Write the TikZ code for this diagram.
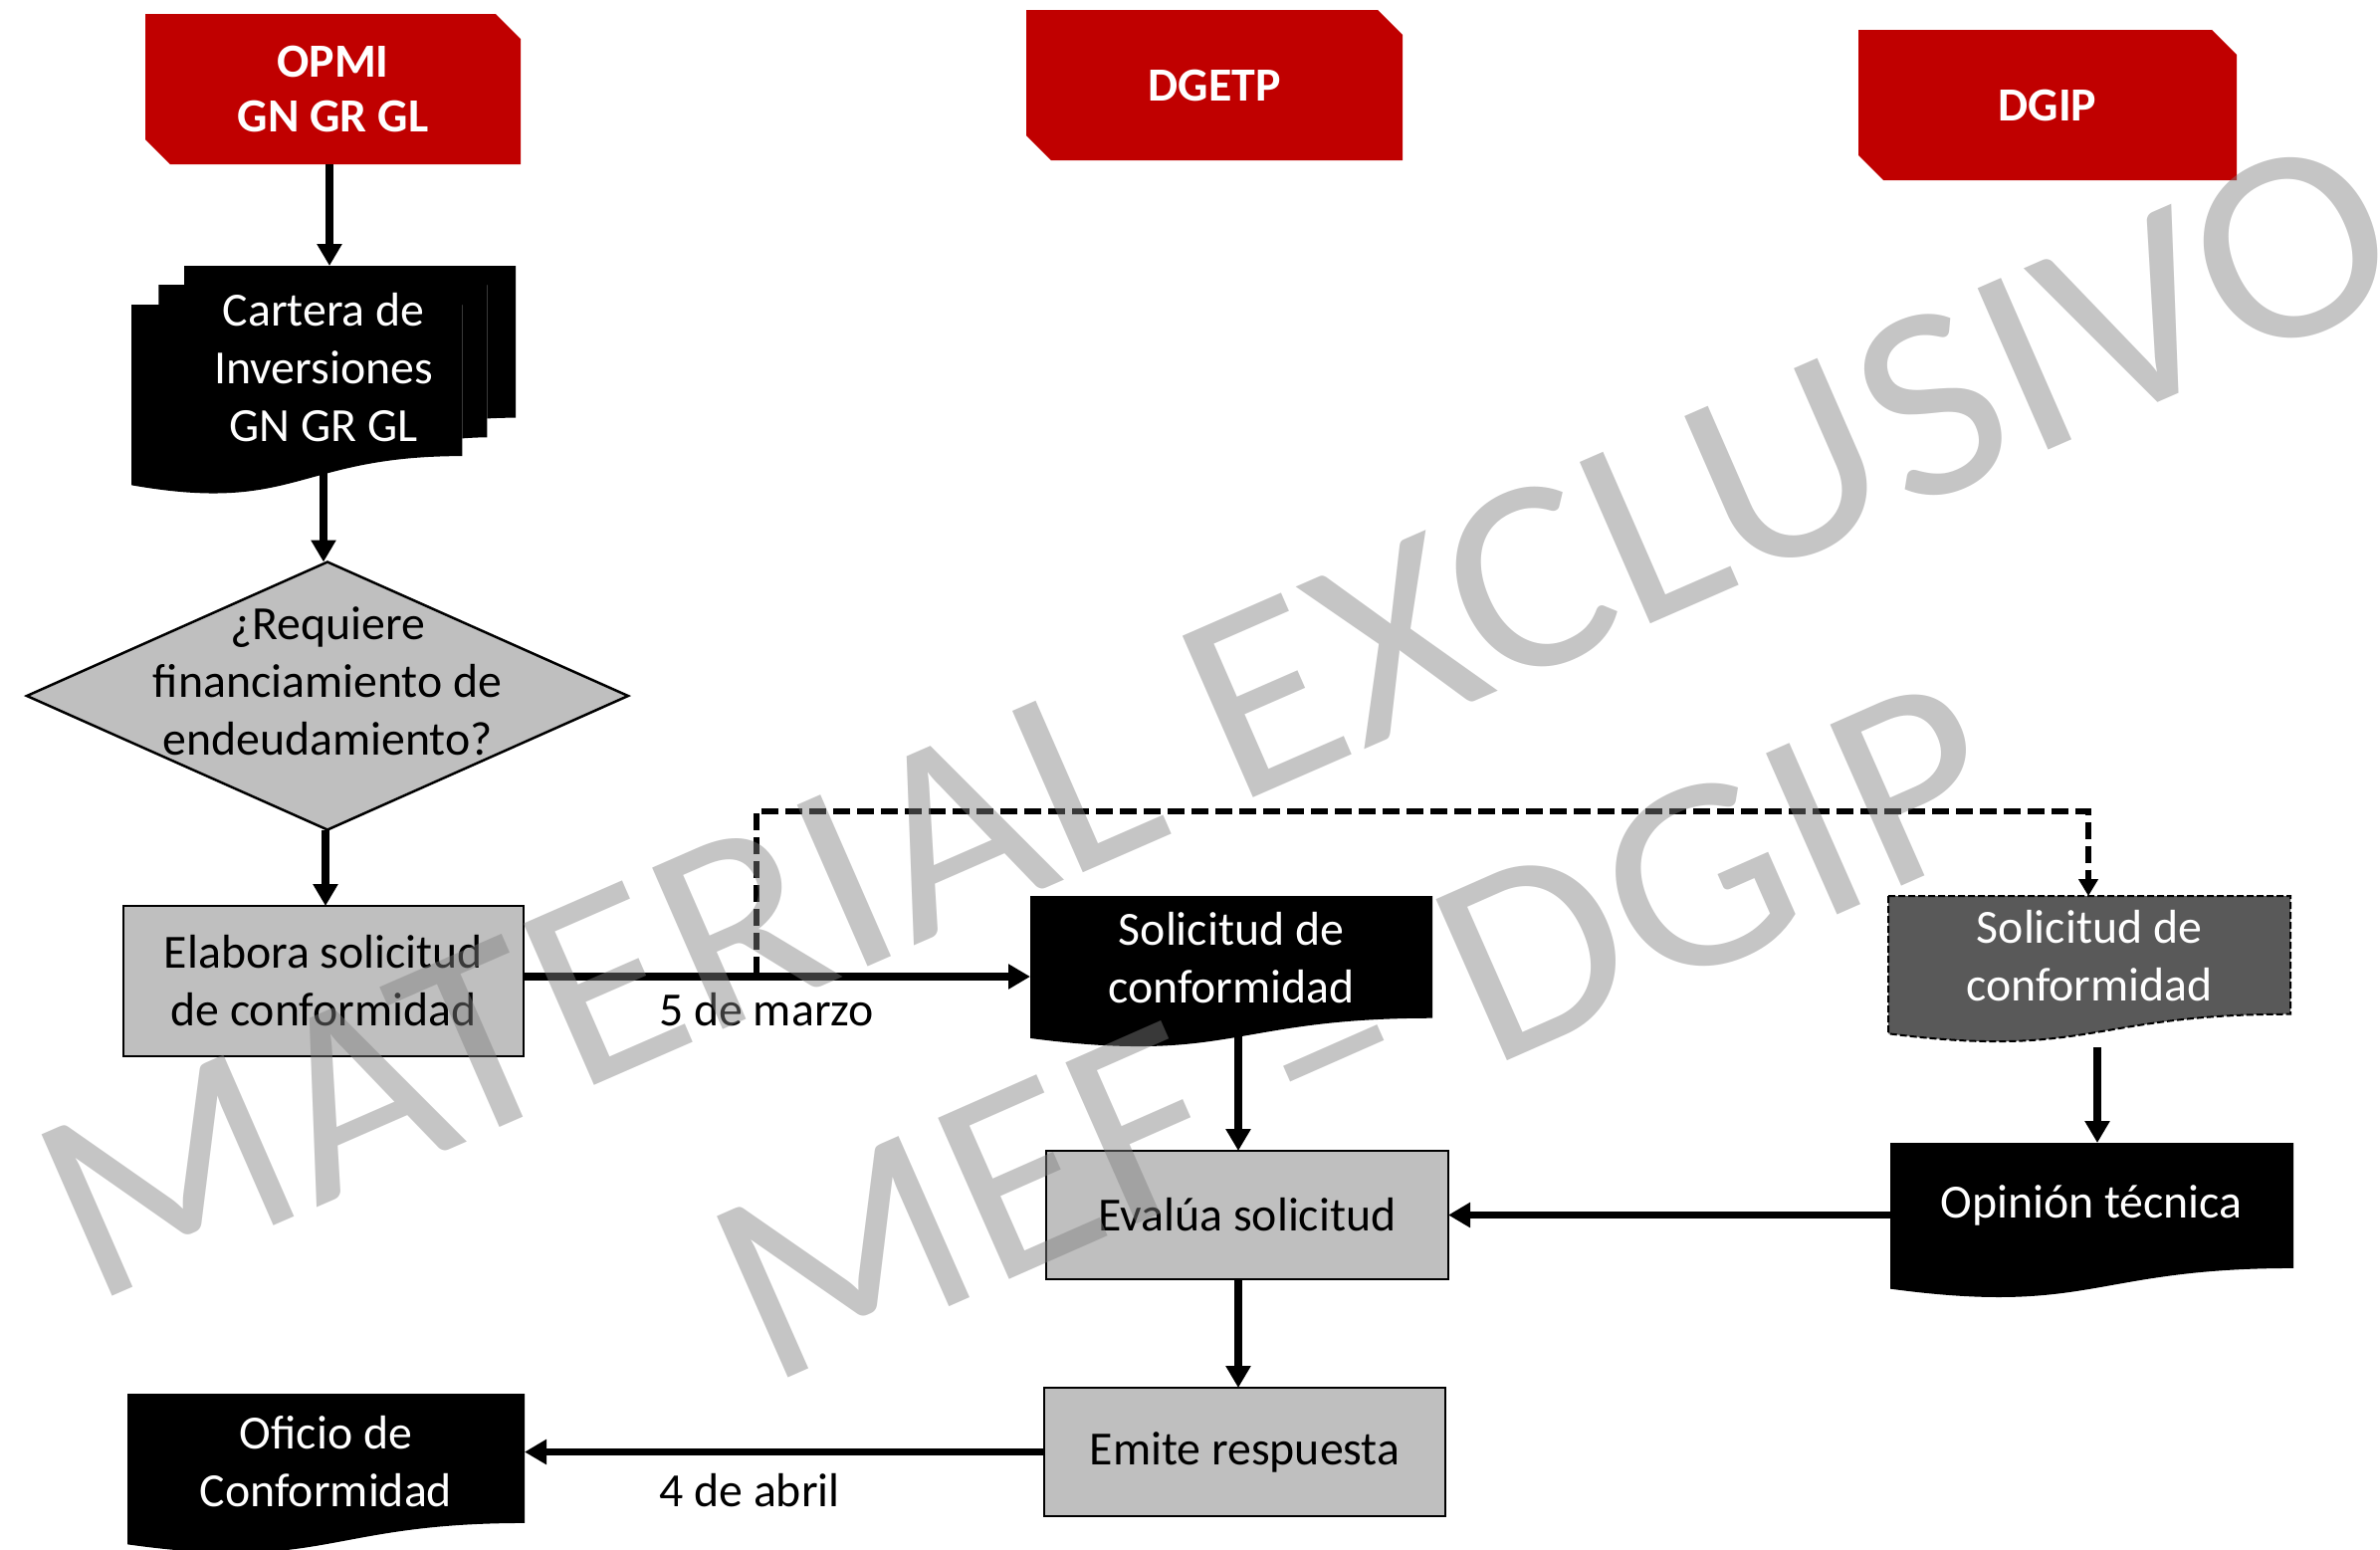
\documentclass[tikz,border=0pt]{standalone}
\usepackage{fontspec}
\setmainfont{Carlito}
\usetikzlibrary{arrows.meta,shapes.geometric,calc}
\definecolor{hdrred}{RGB}{192,0,0}
\definecolor{boxgray}{RGB}{191,191,191}
\definecolor{darkdoc}{RGB}{89,89,89}
\definecolor{wmgray}{RGB}{128,128,128}
% header shape: x1, y1(top), x2, y2(bottom) in image pixels (y downwards)
\newcommand{\hdrshape}[4]{\fill[hdrred] (#1,-#2) -- ({#3-25},-#2) -- (#3,{-#2-25}) -- (#3,-#4) -- ({#1+25},-#4) -- (#1,{-#4+25}) -- cycle;}
% document shape path: xl, xr, top, height
\newcommand{\mydocpath}[4]{(#1,-#3) -- (#2,-#3) -- (#2,{-(#3+0.802*#4)}) .. controls ({(#1+#2)/2},{-(#3+0.802*#4)}) and ({(#1+#2)/2},{-(#3+1.107*#4)}) .. (#1,{-(#3+0.934*#4)}) -- cycle}
\begin{document}
\begin{tikzpicture}[x=0.1mm,y=0.1mm,
  every node/.style={inner sep=0pt,outer sep=0pt},
  txt/.style={font=\fontsize{13.6}{16.5}\selectfont,align=center},
  txtw/.style={txt,text=white},
  hdrtxt/.style={font=\fontsize{13.6}{15.9}\selectfont\bfseries,text=white,align=center},
  procbox/.style={txt,draw=black,fill=boxgray,line width=0.25mm},
  arr/.style={line width=0.78mm,-{Triangle[width=2.4mm,length=2.2mm]}},
  dasharr/.style={line width=0.55mm,dash pattern=on 1.7mm off 0.7mm,-{Triangle[width=1.9mm,length=1.7mm]}},
  wm/.style={font=\fontsize{78.5}{80}\selectfont,text=wmgray,text opacity=0.45}]
\useasboundingbox (0,0) rectangle (2391,-1556);
\clip (0,0) rectangle (2391,-1556);
\fill[white] (0,0) rectangle (2391,-1556);

% ---------- headers ----------
\hdrshape{146}{14}{523}{165}
\hdrshape{1031}{10}{1409}{161}
\hdrshape{1867}{30}{2247}{181}
\node[hdrtxt,minimum width=37.7mm,minimum height=15.1mm] (opmi) at (334.5,-89.5) {OPMI\\GN GR GL};
\node[hdrtxt,minimum width=37.8mm,minimum height=15.1mm] (dgetp) at (1220,-85.5) {DGETP};
\node[hdrtxt,minimum width=38mm,minimum height=15.1mm] (dgip) at (2057,-105.5) {DGIP};

% ---------- multi-document ----------
\fill[black] (185.1,-286.2) -- (185.1,-267) -- (518,-267) -- (518,-419.6) .. controls (503.7,-419.6) and (489.4,-420.4) .. (489.4,-420.4) -- (489.4,-286.2) -- cycle;
\fill[black] (159.4,-306) -- (159.4,-286.2) -- (489.4,-286.2) -- (489.4,-439.3) .. controls (476.9,-439.3) and (464.3,-440.4) .. (464.3,-440.4) -- (464.3,-306) -- cycle;
\fill[black] (132,-487.3) .. controls (298.2,-516.6) and (298.2,-458.1) .. (464.3,-458.1) -- (464.3,-306) -- (132,-306) -- cycle;
\node[txtw,minimum width=38.6mm,minimum height=20.5mm] (cartera) at (325,-369.5) {Cartera de\\Inversiones\\GN GR GL};

% ---------- decision ----------
\node[shape=diamond,draw=black,fill=boxgray,line width=0.25mm,minimum width=60.4mm,minimum height=26.9mm] (decision) at (329,-699) {};
\node[txt] (decisiontxt) at (329,-684) {¿Requiere\\financiamiento de\\endeudamiento?};

% ---------- process boxes ----------
\node[procbox,minimum width=40.2mm,minimum height=15.1mm] (elabora) at (325,-985.5) {Elabora solicitud\\de conformidad};
\node[procbox,minimum width=40.4mm,minimum height=12.9mm] (evalua) at (1253,-1220.5) {Evalúa solicitud};
\node[procbox,minimum width=40.3mm,minimum height=12.9mm] (emite) at (1250.5,-1458.5) {Emite respuesta};

% ---------- documents ----------
\fill[black] \mydocpath{1035}{1439}{900}{153};
\node[txtw,minimum width=40.4mm,minimum height=12.4mm] (solmid) at (1237,-962) {Solicitud de\\conformidad};

\filldraw[fill=darkdoc,draw=black,line width=0.2mm,dash pattern=on 0.7mm off 0.3mm] \mydocpath{1897}{2301}{900}{148};
\node[txtw,minimum width=40.4mm,minimum height=12mm] (solright) at (2099,-960) {Solicitud de\\conformidad};

\fill[black] \mydocpath{1899}{2304}{1148}{157};
\node[txtw,minimum width=40.5mm,minimum height=12.6mm] (opinion) at (2101,-1211) {Opinión técnica};

\fill[black] \mydocpath{128}{527}{1400}{162};
\node[txtw,minimum width=39.9mm,minimum height=13.6mm] (oficio) at (327.5,-1468) {Oficio de\\Conformidad};

% ---------- labels ----------
\node[txt,anchor=base] (lblmarzo) at (770,-1030.5) {5 de marzo};
\node[txt,anchor=base] (lblabril) at (753,-1513.6) {4 de abril};

% ---------- connectors ----------
\draw[arr] ([xshift=-0.35mm]opmi.south) -- ([xshift=-0.35mm]opmi.south |- cartera.north);
\draw[arr] (cartera.south) -- (cartera.south |- decision.north);
\draw[arr] ([xshift=-0.2mm]decision.south) -- ([xshift=-0.2mm]decision.south |- elabora.north);
\draw[arr] ([yshift=0.45mm]elabora.east) -- ([yshift=0.45mm]elabora.east -| solmid.west);
\coordinate (branch) at (760,-978);
\draw[dasharr] (branch) -- (760,-815) -| ([xshift=-0.1mm]solright.north);
\draw[arr] ([xshift=0.7mm]solmid.south) -- ([xshift=0.7mm]solmid.south |- evalua.north);
\draw[arr] ([xshift=0.8mm,yshift=-3.2mm]solright.south) -- ([xshift=0.8mm]solright.south |- opinion.north);
\draw[arr] (opinion.west |- evalua.east) -- (evalua.east);
\draw[arr] ([xshift=-0.9mm]evalua.south) -- ([xshift=-0.9mm]evalua.south |- emite.north);
\draw[arr] (emite.west) -- (emite.west -| oficio.east);

% ---------- watermark ----------
\node[wm,anchor=base,rotate=23.6,xscale=1.045,transform shape] (wmone) at (1258,-802) {MATERIAL EXCLUSIVO};
\node[wm,anchor=base,rotate=23.8,xscale=1.045,transform shape] (wmtwo) at (1399,-1116) {MEF – DGIP};
\end{tikzpicture}
\end{document}
